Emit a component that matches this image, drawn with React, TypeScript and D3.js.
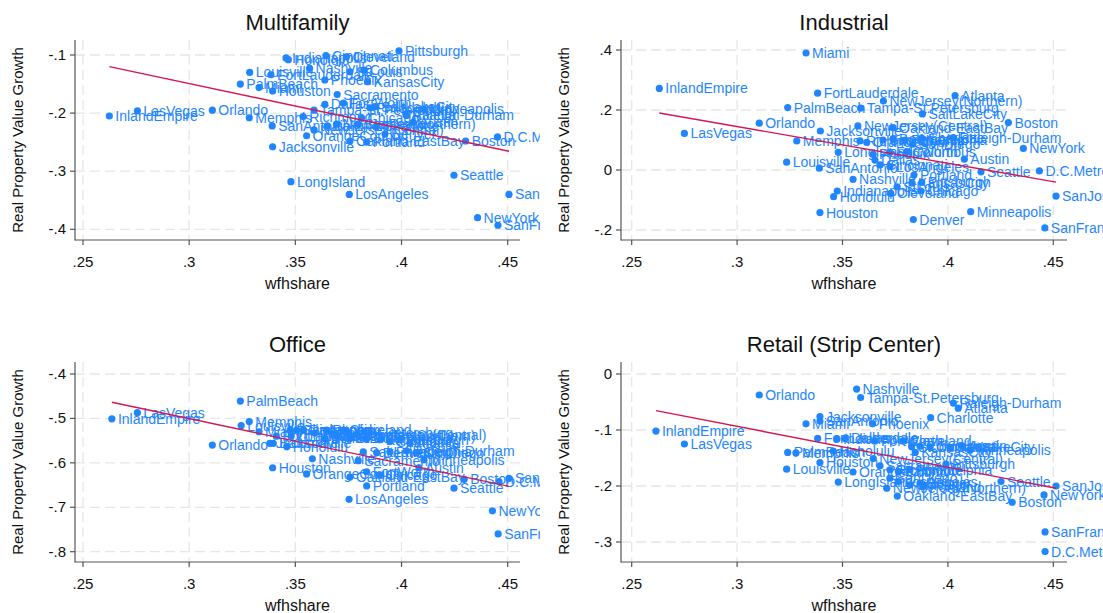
import React, { useEffect, useRef } from 'react';
import * as d3 from 'd3';

type Row = [string, number, number]; // market, wfhshare, growth

const multifamily: Row[] = [
  ['InlandEmpire', 0.2624, -0.205], ['LasVegas', 0.2756, -0.196], ['Orlando', 0.3109, -0.195],
  ['PalmBeach', 0.3241, -0.150], ['Louisville', 0.3285, -0.130], ['Memphis', 0.3283, -0.208],
  ['Miami', 0.3329, -0.156], ['FortLauderdale', 0.3385, -0.134], ['Houston', 0.3393, -0.162],
  ['Jacksonville', 0.3393, -0.258], ['SanAntonio', 0.3391, -0.222], ['Indianapolis', 0.3456, -0.105],
  ['Honolulu', 0.3467, -0.108], ['LongIsland', 0.3479, -0.318], ['Nashville', 0.3567, -0.123],
  ['Richmond', 0.3537, -0.206], ['OrangeCounty', 0.3553, -0.239], ['Tampa-St.Petersburg', 0.3588, -0.195],
  ['NewJersey(Central)', 0.3588, -0.229], ['Phoenix', 0.3639, -0.143], ['Dallas', 0.3639, -0.185],
  ['Cincinnati', 0.3644, -0.101], ['Baltimore', 0.365, -0.222], ['Sacramento', 0.3697, -0.168],
  ['NewJersey(Northern)', 0.3694, -0.219], ['FortWorth', 0.3726, -0.183], ['Cleveland', 0.3741, -0.103],
  ['StLouis', 0.3757, -0.129], ['Oakland-EastBay', 0.3757, -0.248], ['LosAngeles', 0.3754, -0.340],
  ['SanDiego', 0.3796, -0.219], ['Chicago', 0.3812, -0.208], ['Columbus', 0.3823, -0.126],
  ['KansasCity', 0.384, -0.146], ['Portland', 0.3836, -0.250], ['Philadelphia', 0.3851, -0.191],
  ['SaltLakeCity', 0.3875, -0.189], ['Charlotte', 0.3883, -0.223], ['Denver', 0.3922, -0.236],
  ['Pittsburgh', 0.3988, -0.093], ['Raleigh-Durham', 0.4021, -0.203], ['Atlanta', 0.4024, -0.204],
  ['Austin', 0.4055, -0.216], ['Minneapolis', 0.4102, -0.193], ['Seattle', 0.4247, -0.307],
  ['Boston', 0.4302, -0.248], ['NewYork', 0.4358, -0.380], ['D.C.Metro', 0.4452, -0.241],
  ['SanFrancisco', 0.4454, -0.393], ['SanJose', 0.4506, -0.340],
];

const industrial: Row[] = [
  ['InlandEmpire', 0.2631, 0.272], ['LasVegas', 0.275, 0.122], ['Orlando', 0.3105, 0.156],
  ['PalmBeach', 0.324, 0.208], ['Louisville', 0.3235, 0.026], ['Memphis', 0.3283, 0.097],
  ['Miami', 0.3327, 0.39], ['FortLauderdale', 0.3382, 0.256], ['Houston', 0.3393, -0.142],
  ['Jacksonville', 0.3395, 0.13], ['SanAntonio', 0.339, 0.006], ['Honolulu', 0.3458, -0.089],
  ['Indianapolis', 0.3475, -0.07], ['LongIsland', 0.348, 0.059], ['Nashville', 0.355, -0.031],
  ['Richmond', 0.3583, 0.097], ['OrangeCounty', 0.3615, 0.092], ['Tampa-St.Petersburg', 0.3586, 0.206],
  ['NewJersey(Central)', 0.3573, 0.147], ['NewJersey(Northern)', 0.3694, 0.23], ['Phoenix', 0.3645, 0.052],
  ['Dallas', 0.3654, 0.033], ['Cincinnati', 0.3678, 0.017], ['Sacramento', 0.3692, 0.1],
  ['Baltimore', 0.374, 0.103], ['FortWorth', 0.3725, 0.059], ['Cleveland', 0.3729, -0.078],
  ['StLouis', 0.3759, -0.056], ['LosAngeles', 0.3725, 0.011], ['Oakland-EastBay', 0.374, 0.141],
  ['Philadelphia', 0.3797, 0.1], ['Columbus', 0.3805, 0.061], ['SanDiego', 0.3834, 0.086],
  ['KansasCity', 0.383, -0.044], ['Portland', 0.3839, -0.017], ['Denver', 0.3836, -0.165],
  ['Chicago', 0.3872, -0.07], ['Pittsburgh', 0.3876, -0.041], ['Charlotte', 0.3876, 0.106],
  ['SaltLakeCity', 0.3879, 0.187], ['Raleigh-Durham', 0.4026, 0.108], ['Atlanta', 0.4034, 0.248],
  ['Austin', 0.4078, 0.036], ['Minneapolis', 0.4108, -0.139], ['Seattle', 0.4157, -0.006],
  ['Boston', 0.4287, 0.158], ['NewYork', 0.4358, 0.072], ['D.C.Metro', 0.4434, -0.003],
  ['SanFrancisco', 0.446, -0.193], ['SanJose', 0.4513, -0.087],
];

const office: Row[] = [
  ['InlandEmpire', 0.2636, -0.501], ['LasVegas', 0.2756, -0.487], ['Orlando', 0.3109, -0.560],
  ['PalmBeach', 0.3241, -0.461], ['Louisville', 0.3245, -0.516], ['Memphis', 0.3283, -0.507],
  ['Miami', 0.3329, -0.530], ['Jacksonville', 0.338, -0.556], ['Baltimore', 0.3396, -0.556],
  ['FortLauderdale', 0.341, -0.540], ['Houston', 0.3393, -0.611], ['Honolulu', 0.346, -0.564],
  ['Indianapolis', 0.3475, -0.527], ['LongIsland', 0.348, -0.540], ['SanAntonio', 0.3506, -0.526],
  ['Richmond', 0.3537, -0.526], ['OrangeCounty', 0.3553, -0.625], ['Nashville', 0.358, -0.591],
  ['Tampa-St.Petersburg', 0.3592, -0.533], ['Phoenix', 0.3647, -0.526], ['Dallas', 0.3639, -0.545],
  ['Cincinnati', 0.3678, -0.537], ['NewJersey(Northern)', 0.3694, -0.540], ['Cleveland', 0.3726, -0.526],
  ['StLouis', 0.3757, -0.545], ['Oakland-EastBay', 0.3757, -0.632], ['LosAngeles', 0.3753, -0.682],
  ['NewJersey(Central)', 0.3789, -0.537], ['Sacramento', 0.3796, -0.595], ['SaltLakeCity', 0.382, -0.575],
  ['Columbus', 0.3836, -0.545], ['FortWorth', 0.3836, -0.620], ['Portland', 0.3836, -0.652],
  ['Denver', 0.3883, -0.577], ['KansasCity', 0.3898, -0.548], ['Chicago', 0.3898, -0.627],
  ['Charlotte', 0.3945, -0.552], ['Philadelphia', 0.3945, -0.575], ['Pittsburgh', 0.3992, -0.548],
  ['Raleigh-Durham', 0.4024, -0.573], ['Atlanta', 0.404, -0.556], ['SanDiego', 0.4071, -0.577],
  ['Austin', 0.4082, -0.611], ['Minneapolis', 0.4105, -0.593], ['Seattle', 0.4247, -0.657],
  ['Boston', 0.4295, -0.637], ['NewYork', 0.4428, -0.708], ['D.C.Metro', 0.4459, -0.642],
  ['SanFrancisco', 0.4455, -0.760], ['SanJose', 0.4506, -0.635],
];

const retail: Row[] = [
  ['InlandEmpire', 0.2615, -0.102], ['LasVegas', 0.275, -0.125], ['Orlando', 0.3105, -0.0375],
  ['PalmBeach', 0.324, -0.140], ['Louisville', 0.3235, -0.170], ['Memphis', 0.3279, -0.141],
  ['Miami', 0.3327, -0.089], ['Jacksonville', 0.3393, -0.076], ['SanAntonio', 0.3393, -0.084],
  ['FortLauderdale', 0.3382, -0.115], ['Houston', 0.3393, -0.158], ['Honolulu', 0.3456, -0.1375],
  ['Indianapolis', 0.3474, -0.116], ['LongIsland', 0.348, -0.193], ['Dallas', 0.3512, -0.115],
  ['OrangeCounty', 0.355, -0.175], ['Nashville', 0.3567, -0.027], ['Tampa-St.Petersburg', 0.3586, -0.042],
  ['Phoenix', 0.3643, -0.089], ['NewJersey(Central)', 0.3646, -0.151], ['FortWorth', 0.3654, -0.120],
  ['Sacramento', 0.3678, -0.164], ['NewJersey(Northern)', 0.371, -0.204], ['Richmond', 0.3725, -0.171],
  ['SanDiego', 0.3725, -0.186], ['Oakland-EastBay', 0.376, -0.218], ['Baltimore', 0.3765, -0.174],
  ['LosAngeles', 0.3765, -0.192], ['Cleveland', 0.3788, -0.120], ['Philadelphia', 0.382, -0.171],
  ['Chicago', 0.382, -0.198], ['StLouis', 0.3828, -0.130], ['KansasCity', 0.3845, -0.140],
  ['Columbus', 0.3868, -0.129], ['Denver', 0.3868, -0.195], ['Portland', 0.3883, -0.201],
  ['Cincinnati', 0.3915, -0.130], ['Charlotte', 0.3918, -0.078], ['Pittsburgh', 0.3991, -0.161],
  ['SaltLakeCity', 0.401, -0.131], ['Raleigh-Durham', 0.4026, -0.052], ['Atlanta', 0.4049, -0.061],
  ['Austin', 0.4068, -0.129], ['Minneapolis', 0.4105, -0.136], ['Seattle', 0.4252, -0.192],
  ['Boston', 0.4305, -0.229], ['NewYork', 0.4456, -0.216], ['SanFrancisco', 0.4461, -0.282],
  ['D.C.Metro', 0.4461, -0.317], ['SanJose', 0.4513, -0.200],
];

const xTicks = [0.25, 0.3, 0.35, 0.4, 0.45];
const multifamilyTicks = [-0.1, -0.2, -0.3, -0.4];
const industrialTicks = [0.4, 0.2, 0, -0.2];
const officeTicks = [-0.4, -0.5, -0.6, -0.7, -0.8];
const retailTicks = [0, -0.1, -0.2, -0.3];

const BLUE = '#1f86ff';
const RED = '#d6174f';
const FONT = '"Liberation Sans", Arial, Helvetica, sans-serif';

// Stata-style numbers: drop the leading zero
const fmt = (v: number) => (v === 0 ? '0' : String(+v.toFixed(2)).replace(/^(-?)0\./, '$1.'));

const panels = [
  { title: 'Multifamily', data: multifamily, yTicks: multifamilyTicks, left: 75, right: 520, top: 40, bottom: 240,
    xr: [83, 507.7], yr: [55, 229.3], clip: 540 },
  { title: 'Industrial', data: industrial, yTicks: industrialTicks, left: 621, right: 1067, top: 40, bottom: 240,
    xr: [631.7, 1053.3], yr: [50, 230], clip: 1103 },
  { title: 'Office', data: office, yTicks: officeTicks, left: 75, right: 520, top: 362, bottom: 562,
    xr: [83, 507.7], yr: [374, 551.7], clip: 540 },
  { title: 'Retail (Strip Center)', data: retail, yTicks: retailTicks, left: 621, right: 1067, top: 362, bottom: 562,
    xr: [631.7, 1053.3], yr: [374, 542], clip: 1103 },
];

const App = () => {
  const ref = useRef<SVGSVGElement>(null);

  useEffect(() => {
    const svg = d3.select(ref.current);
    svg.selectAll('*').remove();

    panels.forEach((p, i) => {
      const g = svg.append('g');
      const x = d3.scaleLinear().domain([0.25, 0.45]).range(p.xr);
      const yd = p.yTicks;
      const y = d3.scaleLinear().domain([yd[0], yd[yd.length - 1]]).range(p.yr);

      g.append('clipPath').attr('id', `clip${i}`)
        .append('rect').attr('x', p.left - 80).attr('y', p.top - 40)
        .attr('width', p.clip - (p.left - 80)).attr('height', 300);

      // gridlines
      g.selectAll('.hg').data(yd).enter().append('line')
        .attr('x1', p.left).attr('x2', p.right)
        .attr('y1', d => y(d)).attr('y2', d => y(d))
        .attr('stroke', '#e6e6e6').attr('stroke-width', 1.3).attr('stroke-dasharray', '10,5');
      g.selectAll('.vg').data(xTicks).enter().append('line')
        .attr('x1', d => x(d)).attr('x2', d => x(d))
        .attr('y1', p.top).attr('y2', p.bottom)
        .attr('stroke', '#e6e6e6').attr('stroke-width', 1.3).attr('stroke-dasharray', '10,5');

      // axes
      g.append('line').attr('x1', p.left).attr('x2', p.left).attr('y1', p.top).attr('y2', p.bottom + 0.5)
        .attr('stroke', '#555').attr('stroke-width', 1.2);
      g.append('line').attr('x1', p.left).attr('x2', p.right).attr('y1', p.bottom).attr('y2', p.bottom)
        .attr('stroke', '#555').attr('stroke-width', 1.2);

      g.selectAll('.yt').data(yd).enter().append('line')
        .attr('x1', p.left - 5).attr('x2', p.left).attr('y1', d => y(d)).attr('y2', d => y(d))
        .attr('stroke', '#555').attr('stroke-width', 1.2);
      g.selectAll('.ytl').data(yd).enter().append('text')
        .attr('x', p.left - 9).attr('y', d => y(d) + 5)
        .attr('text-anchor', 'end').attr('font-size', 15).attr('font-family', FONT).attr('fill', '#111')
        .text(d => fmt(d));

      g.selectAll('.xt').data(xTicks).enter().append('line')
        .attr('x1', d => x(d)).attr('x2', d => x(d)).attr('y1', p.bottom).attr('y2', p.bottom + 5)
        .attr('stroke', '#555').attr('stroke-width', 1.2);
      g.selectAll('.xtl').data(xTicks).enter().append('text')
        .attr('x', d => x(d)).attr('y', p.bottom + 27)
        .attr('text-anchor', 'middle').attr('font-size', 15).attr('font-family', FONT).attr('fill', '#111')
        .text(d => fmt(d));

      // titles
      const cx = (p.left + p.right) / 2;
      g.append('text').attr('x', cx).attr('y', p.top - 10).attr('text-anchor', 'middle')
        .attr('font-size', 22).attr('font-family', FONT).attr('fill', '#111').text(p.title);
      g.append('text').attr('x', cx).attr('y', p.bottom + 49).attr('text-anchor', 'middle')
        .attr('font-size', 16).attr('font-family', FONT).attr('fill', '#111').text('wfhshare');
      g.append('text')
        .attr('transform', `translate(${p.left - 52},${(p.top + p.bottom) / 2}) rotate(-90)`)
        .attr('text-anchor', 'middle').attr('font-size', 15).attr('font-family', FONT).attr('fill', '#111')
        .text('Real Property Value Growth');

      const plot = g.append('g').attr('clip-path', `url(#clip${i})`);

      // points and labels
      plot.selectAll('.pt').data(p.data).enter().append('circle')
        .attr('cx', d => x(d[1])).attr('cy', d => y(d[2])).attr('r', 3.6).attr('fill', BLUE);
      plot.selectAll('.lb').data(p.data).enter().append('text')
        .attr('x', d => x(d[1]) + 6).attr('y', d => y(d[2]) + 5)
        .attr('font-size', 14).attr('font-family', FONT).attr('fill', BLUE)
        .text(d => d[0]);

      // linear fit
      const mx = d3.mean(p.data, d => d[1]) as number;
      const my = d3.mean(p.data, d => d[2]) as number;
      const sxy = d3.sum(p.data, d => (d[1] - mx) * (d[2] - my));
      const sxx = d3.sum(p.data, d => (d[1] - mx) ** 2);
      const b = sxy / sxx;
      const [x0, x1] = d3.extent(p.data, d => d[1]) as [number, number];
      const line = d3.line<number>().x(v => x(v)).y(v => y(my + b * (v - mx)));
      plot.append('path').attr('d', line([x0, x1])).attr('fill', 'none')
        .attr('stroke', RED).attr('stroke-width', 1.4);
    });
  }, []);

  return (
    <svg ref={ref} width={1103} height={613}
      style={{ position: 'absolute', left: 0, top: 0, background: '#fff' }} />
  );
};

export default App;
